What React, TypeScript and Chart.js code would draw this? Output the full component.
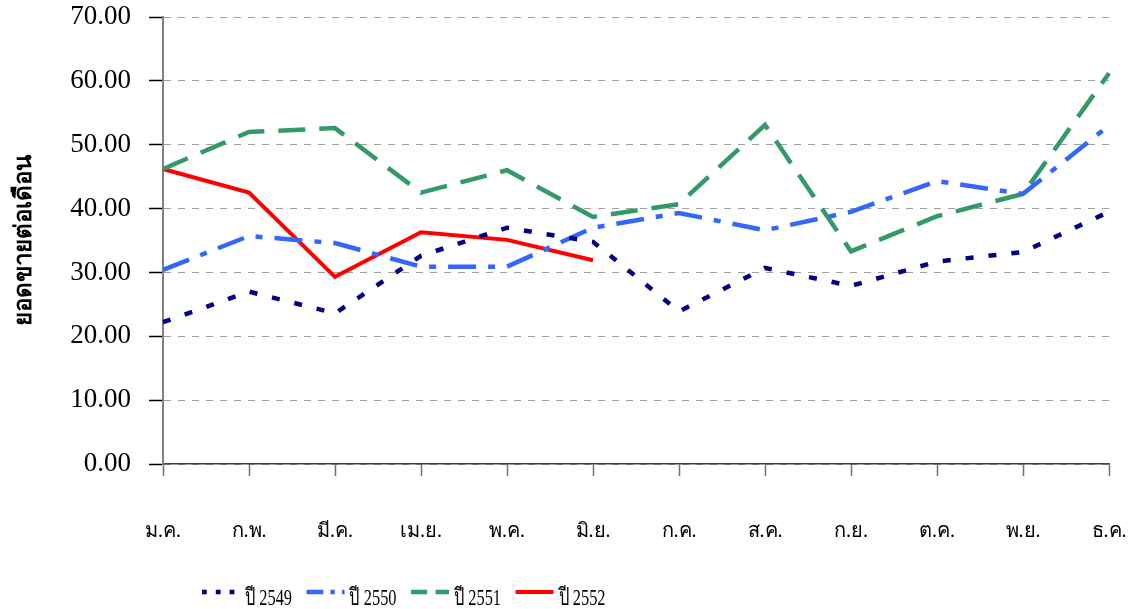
import React, { useEffect, useRef } from 'react';
import { Chart, registerables } from 'chart.js';

Chart.register(...registerables);

const months = ['ม.ค.', 'ก.พ.', 'มี.ค.', 'เม.ย.', 'พ.ค.', 'มิ.ย.', 'ก.ค.', 'ส.ค.', 'ก.ย.', 'ต.ค.', 'พ.ย.', 'ธ.ค.'];
const seriesLabels = ['ปี 2549', 'ปี 2550', 'ปี 2551', 'ปี 2552'];
const values2549 = [22.2, 27.0, 23.6, 32.6, 37.0, 34.8, 23.9, 30.7, 27.9, 31.7, 33.2, 39.5];
const values2550 = [30.4, 35.7, 34.6, 30.9, 30.9, 37.0, 39.3, 36.6, 39.5, 44.3, 42.3, 53.0];
const values2551 = [46.2, 52.0, 52.6, 42.5, 46.0, 38.7, 40.7, 53.1, 33.3, 38.8, 42.3, 61.2];
const values2552 = [46.2, 42.5, 29.3, 36.3, 35.1, 31.9, null, null, null, null, null, null];
const yTicks = [0, 10, 20, 30, 40, 50, 60, 70];
const yTitle = 'ยอดขายต่อเดือน';

const FONT = '"Liberation Serif", "Times New Roman", serif';

const legendPlugin = {
  id: 'customLegend',
  afterDraw(chart: any) {
    const ctx = chart.ctx;
    const y = 592;
    let x = 202;
    ctx.save();
    ctx.font = '24px ' + FONT;
    ctx.textBaseline = 'alphabetic';
    ctx.textAlign = 'left';
    chart.data.datasets.forEach((ds: any) => {
      ctx.beginPath();
      ctx.setLineDash((ds.borderDash || []).map((d: number) => d * 0.6));
      ctx.strokeStyle = ds.borderColor;
      ctx.lineWidth = ds.borderWidth;
      ctx.lineCap = 'butt';
      ctx.moveTo(x, y);
      ctx.lineTo(x + 38, y);
      ctx.stroke();
      ctx.setLineDash([]);
      ctx.fillStyle = '#000';
      ctx.fillText(ds.label, x + 43, y + 13, 47);
      x += 104.5;
    });
    ctx.restore();
  },
};

export default function App() {
  const canvasRef = useRef<HTMLCanvasElement | null>(null);

  useEffect(() => {
    if (!canvasRef.current) return;
    Chart.defaults.font.family = FONT;
    const chart = new Chart(canvasRef.current, {
      type: 'line',
      data: {
        labels: months,
        datasets: [
          {
            label: seriesLabels[0],
            data: values2549,
            borderColor: '#000080',
            backgroundColor: '#000080',
            borderWidth: 4.5,
            borderDash: [8, 15],
            pointRadius: 0,
            tension: 0,
          },
          {
            label: seriesLabels[1],
            data: values2550,
            borderColor: '#3366FF',
            backgroundColor: '#3366FF',
            borderWidth: 4.5,
            borderDash: [28, 12, 7, 12],
            pointRadius: 0,
            tension: 0,
          },
          {
            label: seriesLabels[2],
            data: values2551,
            borderColor: '#339966',
            backgroundColor: '#339966',
            borderWidth: 4.5,
            borderDash: [27, 14],
            pointRadius: 0,
            tension: 0,
          },
          {
            label: seriesLabels[3],
            data: values2552,
            borderColor: '#FF0000',
            backgroundColor: '#FF0000',
            borderWidth: 4,
            pointRadius: 0,
            tension: 0,
            spanGaps: false,
          },
        ],
      },
      options: {
        responsive: true,
        maintainAspectRatio: false,
        animation: false,
        layout: { padding: { top: 17, right: 22, bottom: 0, left: 0 } },
        plugins: {
          legend: { display: false },
          tooltip: { enabled: false },
          title: { display: false },
        },
        scales: {
          x: {
            type: 'category',
            offset: false,
            grid: {
              display: true,
              drawOnChartArea: false,
              drawTicks: true,
              tickLength: 12,
              tickColor: '#707070',
              tickWidth: 1.5,
              color: '#707070',
            },
            border: { display: true, color: '#404040', width: 1.5 },
            ticks: {
              padding: 44,
              color: '#000',
              autoSkip: false,
              maxRotation: 0,
              font: { family: FONT, size: 20 },
            },
            afterFit: (s: any) => {
              s.height = 145;
              s.paddingLeft = 0;
              s.paddingRight = 0;
            },
          },
          y: {
            min: 0,
            max: 70,
            afterBuildTicks: (s: any) => {
              s.ticks = yTicks.map((v) => ({ value: v }));
            },
            ticks: {
              color: '#000',
              padding: 18,
              font: { family: FONT, size: 27 },
              callback: (v: any) => Number(v).toFixed(2),
            },
            grid: {
              display: true,
              drawOnChartArea: true,
              drawTicks: true,
              color: '#A0A0A0',
              lineWidth: 1,
              tickLength: 14,
              tickColor: '#000',
              tickWidth: 1.5,
              tickBorderDash: [],
            },
            border: { display: true, color: '#808080', width: 2, dash: [7, 7] },
            title: {
              display: true,
              text: yTitle,
              color: '#000',
              font: { family: FONT, size: 24, weight: 'bold' },
              padding: { top: 10, bottom: 0 },
            },
            afterFit: (s: any) => {
              s.width = 163;
              s.paddingTop = 0;
              s.paddingBottom = 0;
            },
          },
        },
      },
      plugins: [legendPlugin],
    });
    return () => chart.destroy();
  }, []);

  return (
    <div style={{ position: 'absolute', left: 0, top: 0, width: 1131, height: 609 }}>
      <canvas ref={canvasRef} />
    </div>
  );
}
